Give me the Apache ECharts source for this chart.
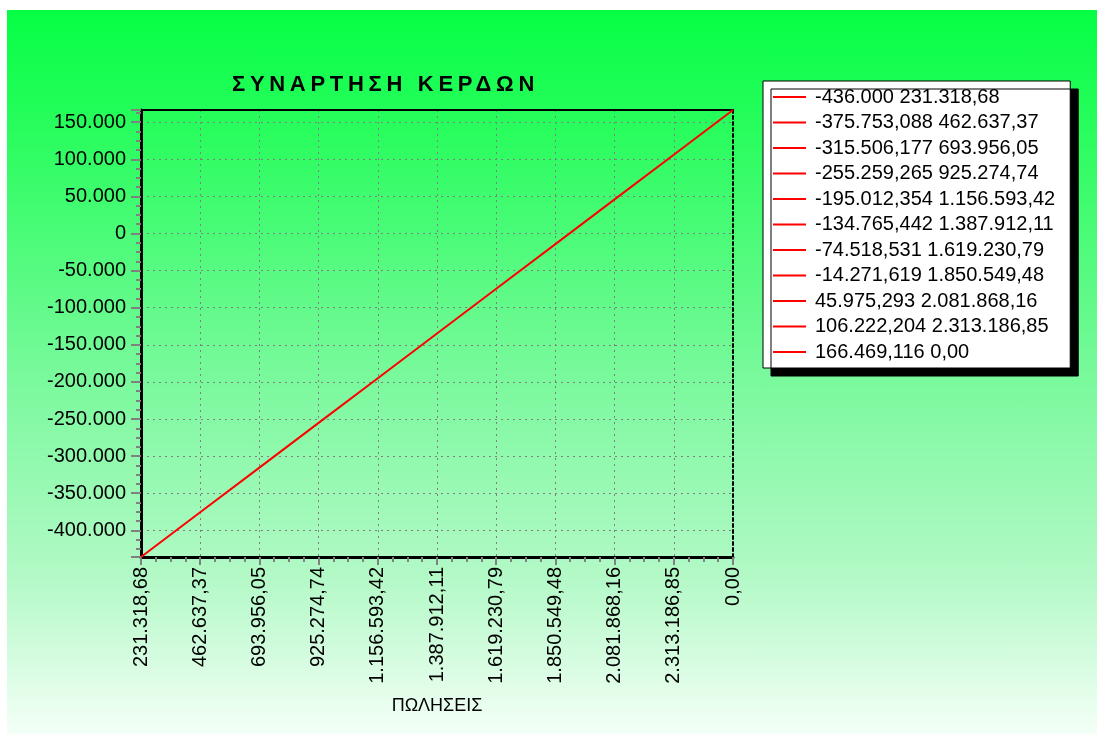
<!DOCTYPE html>
<html>
<head>
<meta charset="utf-8">
<script src="https://cdn.jsdelivr.net/npm/echarts@6/dist/echarts.min.js"></script>
<style>
  html, body { margin: 0; padding: 0; background: #fff; }
  #bg {
    position: absolute; left: 7px; top: 10px; width: 1090px; height: 724px;
    background: linear-gradient(#05ff44 0%, #2cfd60 18%, #78f99b 50%, #b2f9c6 78%, #f4fff7 100%);
  }
  #chart { position: absolute; left: 0; top: 0; width: 1100px; height: 740px; }
  #title {
    position: absolute; left: 232px; top: 73px; margin: 0;
    font: bold 22px/22px 'Liberation Sans', Arial, sans-serif;
    letter-spacing: 4.7px; color: #000; white-space: nowrap; z-index: 2;
  }
</style>
</head>
<body>
<div id="bg"></div>
<div id="chart"></div>
<div id="title"></div>
<script>
// ΠΩΛΗΣΕΙΣ (x) labels as printed under the axis
const salesLabels = ['231.318,68', '462.637,37', '693.956,05', '925.274,74', '1.156.593,42',
  '1.387.912,11', '1.619.230,79', '1.850.549,48', '2.081.868,16', '2.313.186,85', '0,00']
// ΚΕΡΔΗ (y) values
const profit = [-436000, -375753.088, -315506.177, -255259.265, -195012.354,
  -134765.442, -74518.531, -14271.619, 45975.293, 106222.204, 166469.116]

const titleText = 'ΣΥΝΑΡΤΗΣΗ ΚΕΡΔΩΝ'
const xName = 'ΠΩΛΗΣΕΙΣ'

// greek style number: dot thousands, comma decimals
function grNum(v) {
  const neg = v < 0
  let [i, f] = Math.abs(v).toFixed(3).split('.')
  f = f.replace(/0+$/, '')
  i = i.replace(/\B(?=(\d{3})+(?!\d))/g, '.')
  return (neg ? '-' : '') + i + (f ? ',' + f : '')
}

// title is spaced out, echarts text has no letter spacing
document.getElementById('title').textContent = titleText

const legendNames = profit.map((v, i) => grNum(v) + ' ' + salesLabels[i])
const points = profit.map((v, i) => [i, v])

const font = 'Liberation Sans, Arial, sans-serif'
const chart = echarts.init(document.getElementById('chart'))

const series = [{
  name: 'line',
  type: 'line',
  data: points,
  symbol: 'none',
  lineStyle: { color: '#ff0000', width: 2 },
  silent: true,
  z: 5
}]
legendNames.forEach((n, i) => {
  series.push({
    name: n,
    type: 'line',
    data: [points[i]],
    symbol: 'none',
    color: '#ff0000',
    lineStyle: { color: '#ff0000', width: 2 }
  })
})

chart.setOption({
  backgroundColor: 'transparent',
  animation: false,
  legend: {
    data: legendNames,
    orient: 'vertical',
    left: 763,
    top: 81,
    padding: [6, 15, 6, 10],
    itemGap: 5.5,
    itemWidth: 33,
    itemHeight: 2,
    icon: 'rect',
    backgroundColor: '#fff',
    borderColor: '#000',
    borderWidth: 1,
    shadowColor: '#000',
    shadowBlur: 0,
    shadowOffsetX: 8,
    shadowOffsetY: 8,
    selectedMode: false,
    textStyle: { fontFamily: font, fontSize: 20, color: '#000', lineHeight: 20, padding: [0, 0, 0, 4] }
  },
  grid: { left: 141, top: 110, right: 367, bottom: 183 },
  xAxis: [{
    type: 'value',
    min: 0,
    max: salesLabels.length - 1,
    interval: 1,
    name: xName,
    nameLocation: 'middle',
    nameGap: 140,
    nameTextStyle: { fontFamily: 'Liberation Sans Narrow, ' + font, fontSize: 18, color: '#000' },
    axisLine: { onZero: false, lineStyle: { color: '#000', width: 3 } },
    axisTick: { length: 8, lineStyle: { color: '#808080', width: 2 } },
    minorTick: { show: true, splitNumber: 4, length: 5, lineStyle: { color: '#808080', width: 2 } },
    axisLabel: {
      rotate: 90,
      margin: 10,
      fontFamily: font,
      fontSize: 20,
      color: '#000',
      formatter: v => salesLabels[v]
    },
    splitLine: { lineStyle: { color: '#808080', width: 1, type: [2, 4] } }
  }, {
    type: 'value',
    position: 'top',
    min: 0,
    max: salesLabels.length - 1,
    axisLine: { show: true, onZero: false, lineStyle: { color: '#000', width: 2 } },
    axisTick: { show: false },
    axisLabel: { show: false },
    splitLine: { show: false }
  }],
  yAxis: [{
    type: 'value',
    min: profit[0],
    max: profit[profit.length - 1],
    splitNumber: 12,
    axisLine: { show: true, onZero: false, lineStyle: { color: '#000', width: 3 } },
    axisTick: { length: 10, lineStyle: { color: '#808080', width: 2 } },
    minorTick: { show: true, splitNumber: 4, length: 5, lineStyle: { color: '#808080', width: 2 } },
    axisLabel: {
      margin: 15,
      fontFamily: font,
      fontSize: 20,
      color: '#000',
      showMinLabel: false,
      showMaxLabel: false,
      formatter: v => grNum(v)
    },
    splitLine: { lineStyle: { color: '#808080', width: 1, type: [2, 4] } }
  }, {
    type: 'value',
    position: 'right',
    min: profit[0],
    max: profit[profit.length - 1],
    axisLine: { show: true, onZero: false, lineStyle: { color: '#000', width: 2, type: [3, 3] } },
    axisTick: { show: false },
    axisLabel: { show: false },
    splitLine: { show: false }
  }],
  series: series
})
</script>
</body>
</html>
